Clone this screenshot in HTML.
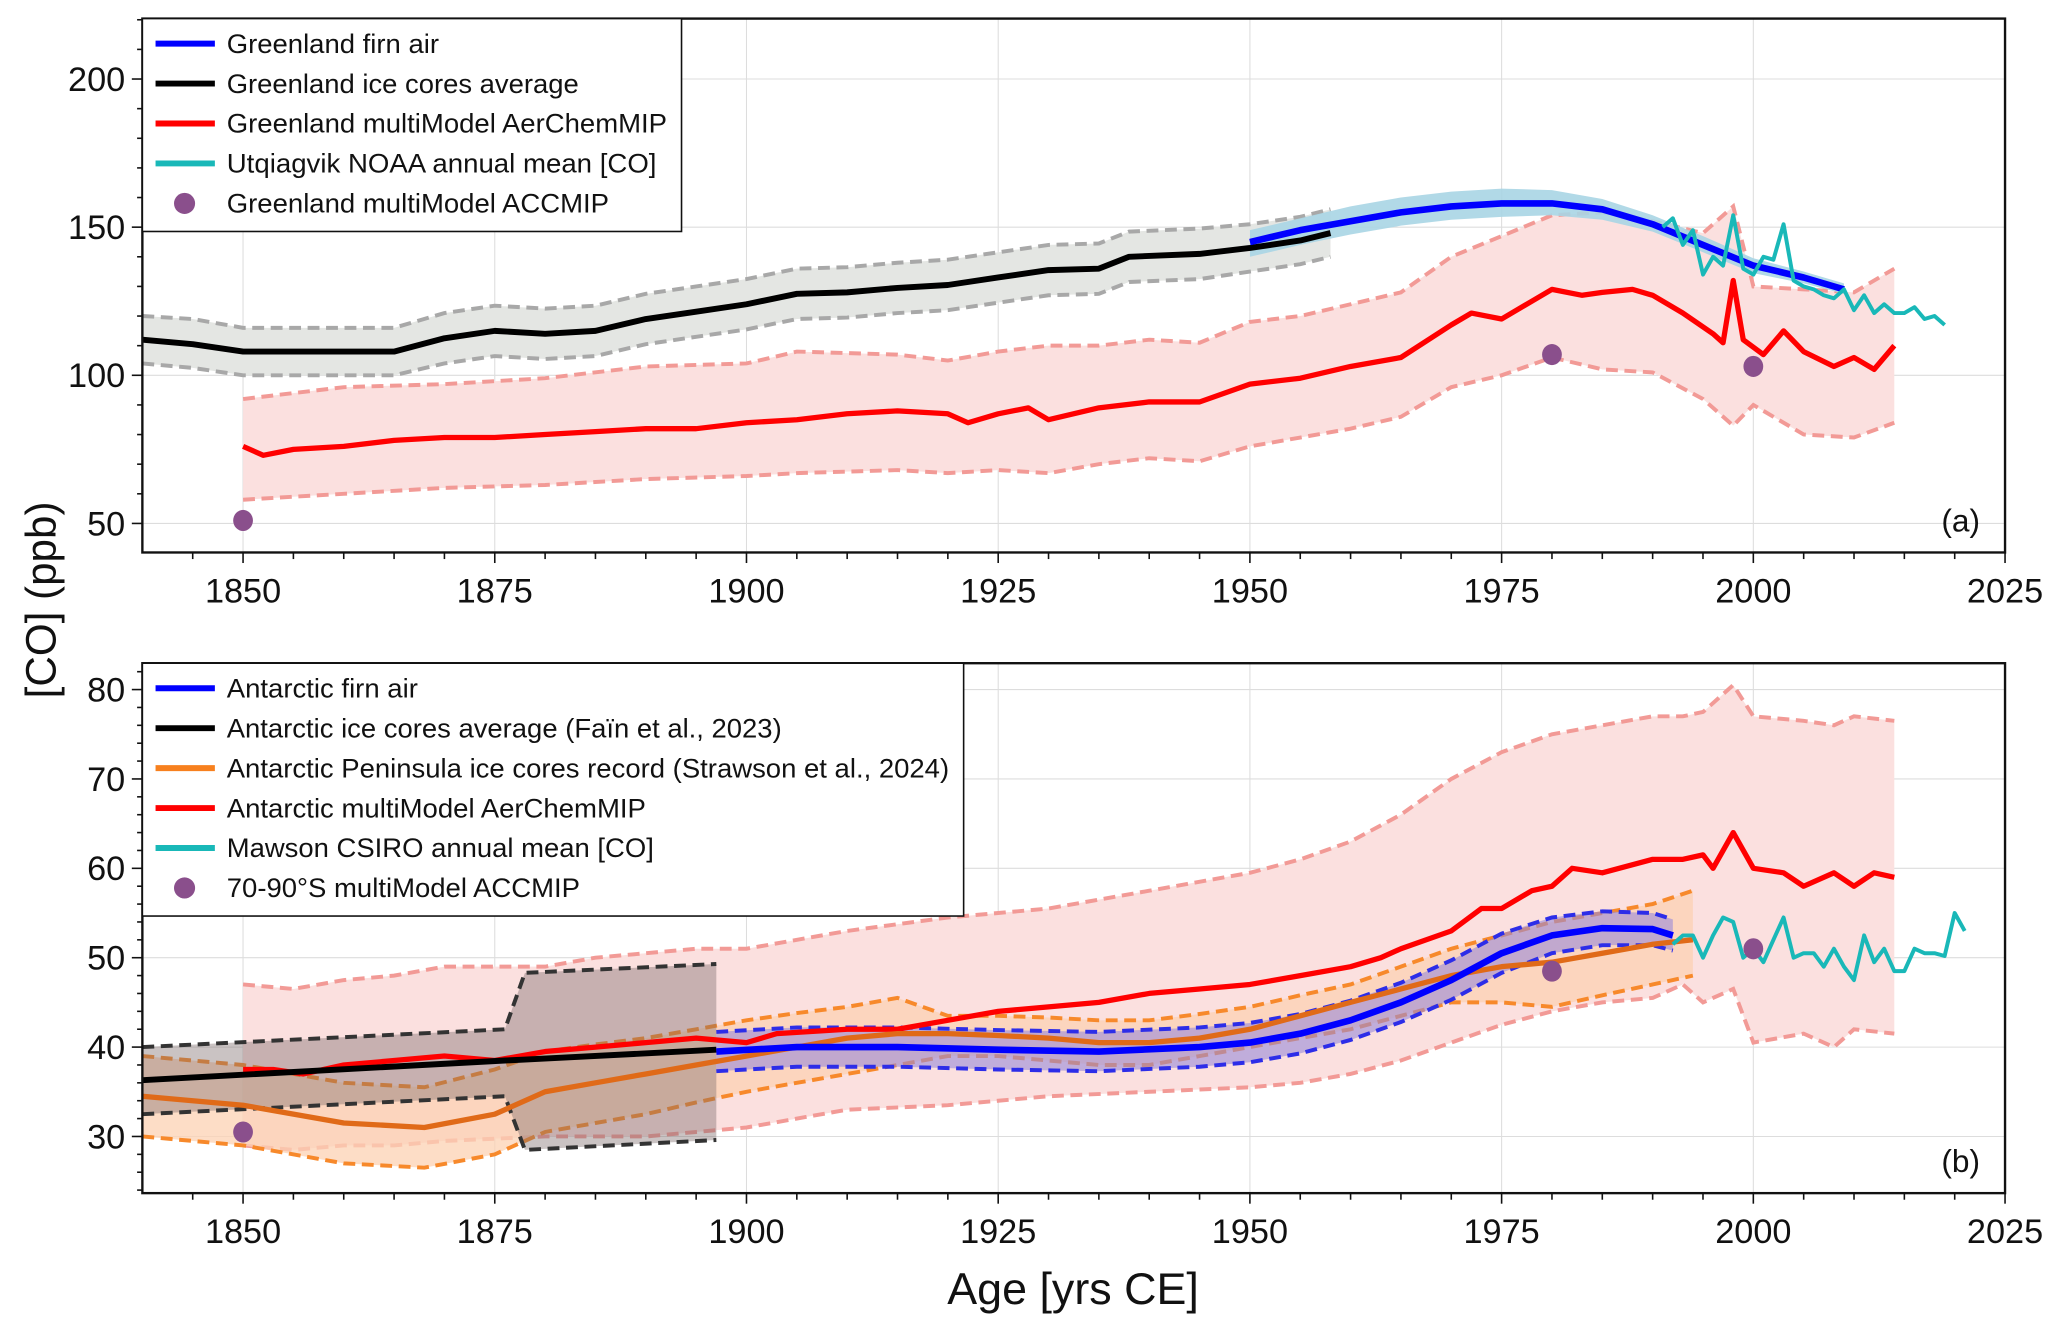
<!DOCTYPE html>
<html><head><meta charset="utf-8"><style>
html,body{margin:0;padding:0;background:#fff}
svg{display:block}
text{font-family:"Liberation Sans",sans-serif;fill:#111}
</style></head><body>
<svg id="chart" width="2067" height="1333" viewBox="0 0 1568 1011" xmlns="http://www.w3.org/2000/svg"></svg>
<script>
// ---------- Panel (a) data: Greenland ----------
const aIceYears=[1840,1845,1850,1855,1860,1865,1870,1875,1880,1885,1890,1895,1900,1905,1910,1915,1920,1925,1930,1935,1938,1945,1950,1955,1958];
const aIceMean=[112,110.5,108,108,108,108,112.5,115,114,115,119,121.5,124,127.5,128,129.5,130.5,133,135.5,136,140,141,143,145.5,148];
const aIceUp=[120,119,116,116,116,116,121,123.5,122.5,123.5,127.5,130,132.5,136,136.5,138,139,141.5,144,144.5,148.5,149.5,151,153.5,156];
const aIceLo=[104,102.5,100,100,100,100,104,106.5,105.5,106.5,110.5,113,115.5,119,119.5,121,122,124.5,127,127.5,131.5,132.5,135,137.5,140];
const aFirnYears=[1950,1955,1960,1965,1970,1975,1980,1985,1990,1995,2000,2005,2009];
const aFirn=[145,149,152,155,157,158,158,156,151,144,137,133,129];
const aFirnUp=[149,153,157,160,162,163,162.5,159.5,154,147,139.5,135,131];
const aFirnLo=[140,144,147.5,150.5,152.5,153.5,154,152.5,148.5,141.5,134.5,131,127.5];
const aModYears=[1850,1852,1855,1860,1865,1870,1875,1880,1885,1890,1895,1900,1905,1910,1915,1920,1922,1925,1928,1930,1935,1940,1945,1950,1955,1960,1965,1970,1972,1975,1978,1980,1983,1985,1988,1990,1993,1996,1997,1998,1999,2001,2003,2005,2008,2010,2012,2014];
const aMod=[76,73,75,76,78,79,79,80,81,82,82,84,85,87,88,87,84,87,89,85,89,91,91,97,99,103,106,117,121,119,125,129,127,128,129,127,121,114,111,132,112,107,115,108,103,106,102,110];
const aModBandYears=[1850,1855,1860,1870,1880,1890,1900,1905,1915,1920,1925,1930,1935,1940,1945,1950,1955,1960,1965,1970,1975,1980,1985,1990,1995,1998,2000,2005,2010,2014];
const aModUp=[92,94,96,97,99,103,104,108,107,105,108,110,110,112,111,118,120,124,128,140,147,154,155,152,148,157,130,129,128,136];
const aModLo=[58,59,60,62,63,65,66,67,68,67,68,67,70,72,71,76,79,82,86,96,100,106,102,101,92,83,90,80,79,84];
const aObsYears=[1991,1992,1993,1994,1995,1996,1997,1998,1999,2000,2001,2002,2003,2004,2005,2006,2007,2008,2009,2010,2011,2012,2013,2014,2015,2016,2017,2018,2019];
const aObs=[150,153,144,149,134,140,137,154,136,134,140,139,151,132,130,129,127,126,129,122,127,121,124,121,121,123,119,120,117];
const aDotYears=[1850,1980,2000];
const aDots=[51,107,103];
// ---------- Panel (b) data: Antarctic ----------
const bIceYears=[1840,1876,1878,1897];
const bIceMean=[36.3,38.5,38.6,39.7];
const bIceUp=[40,42,48.3,49.3];
const bIceLo=[32.5,34.5,28.5,29.6];
const bPenYears=[1840,1850,1860,1868,1875,1880,1885,1890,1895,1900,1905,1910,1915,1920,1925,1930,1935,1940,1945,1950,1955,1960,1965,1970,1975,1980,1985,1990,1994];
const bPen=[34.5,33.5,31.5,31,32.5,35,36,37,38,39,40,41,41.5,41.5,41.3,41,40.5,40.5,41,42,43.5,45,46.5,48,49,49.5,50.5,51.5,52];
const bPenUp=[39,38,36,35.5,37.5,39.5,40.3,41,42,43,43.8,44.5,45.5,43.5,43.5,43.3,43,43,43.7,44.5,45.8,47,49,51,52.5,54,55,56,57.5];
const bPenLo=[30,29,27,26.5,28,30.5,31.5,32.5,33.8,35,36,37,38,39,39,38.5,38,38,39,40,41,42,43.5,45,45,44.5,45.8,47,48];
const bFirnYears=[1897,1905,1915,1925,1935,1945,1950,1955,1960,1965,1970,1975,1980,1985,1990,1992];
const bFirn=[39.5,40,40,39.7,39.5,40,40.5,41.5,43,45,47.5,50.5,52.5,53.3,53.2,52.5];
const bFirnUp=[41.7,42.2,42.2,41.9,41.7,42.2,42.7,43.7,45.2,47.2,49.7,52.7,54.5,55.2,55,54.3];
const bFirnLo=[37.3,37.8,37.8,37.5,37.3,37.8,38.3,39.3,40.8,42.8,45.3,48.3,50.5,51.4,51.4,50.8];
const bModYears=[1850,1853,1856,1860,1865,1870,1875,1880,1885,1890,1895,1900,1903,1910,1915,1920,1925,1930,1935,1940,1945,1950,1955,1960,1963,1965,1970,1973,1975,1978,1980,1982,1985,1990,1993,1995,1996,1998,2000,2003,2005,2008,2010,2012,2014];
const bMod=[37.5,37.5,37,38,38.5,39,38.5,39.5,40,40.5,41,40.5,41.5,42,42,43,44,44.5,45,46,46.5,47,48,49,50,51,53,55.5,55.5,57.5,58,60,59.5,61,61,61.5,60,64,60,59.5,58,59.5,58,59.5,59];
const bModBandYears=[1850,1855,1860,1865,1870,1880,1885,1890,1895,1900,1910,1920,1925,1930,1940,1950,1955,1960,1965,1970,1975,1980,1985,1990,1993,1995,1998,2000,2005,2008,2010,2014];
const bModUp=[47,46.5,47.5,48,49,49,50,50.5,51,51,53,54.5,55,55.5,57.5,59.5,61,63,66,70,73,75,76,77,77,77.5,80.5,77,76.5,76,77,76.5];
const bModLo=[29,28.5,29,29,29.5,30,30,30,30.5,31,33,33.5,34,34.5,35,35.5,36,37,38.5,40.5,42.5,44,45,45.5,47,45,46.5,40.5,41.5,40,42,41.5];
const bObsYears=[1992,1993,1994,1995,1996,1997,1998,1999,2000,2001,2002,2003,2004,2005,2006,2007,2008,2009,2010,2011,2012,2013,2014,2015,2016,2017,2018,2019,2020,2021];
const bObs=[51.5,52.5,52.5,50,52.5,54.5,54,50,51,49.5,52,54.5,50,50.5,50.5,49,51,49,47.5,52.5,49.5,51,48.5,48.5,51,50.5,50.5,50.2,55,53];
const bDotYears=[1850,1980,2000];
const bDots=[30.5,48.5,51];
const xTicks=[1850,1875,1900,1925,1950,1975,2000,2025];
const aYTicks=[50,100,150,200];
const bYTicks=[30,40,50,60,70,80];

const NS='http://www.w3.org/2000/svg';
const svg=document.getElementById('chart');
function el(tag,attrs,parent){const e=document.createElementNS(NS,tag);for(const k in attrs)e.setAttribute(k,attrs[k]);(parent||svg).appendChild(e);return e;}

function panel(P){
  const g=el('g',{});
  
  
  const X=v=>P.x0+(v-1840)/(2025-1840)*(P.x1-P.x0);
  const Y=v=>P.y1-(v-P.ymin)/(P.ymax-P.ymin)*(P.y1-P.y0);
  const cp='clip'+P.name;
  const cd=el('clipPath',{id:cp},g);el('rect',{x:P.x0,y:P.y0,width:P.x1-P.x0,height:P.y1-P.y0},cd);
  xTicks.forEach(t=>{const l=el('line',{x1:X(t),x2:X(t),y1:P.y0,y2:P.y1,stroke:'#ddd','stroke-width':0.8},g);});
  P.yTicks.forEach(t=>{const l=el('line',{x1:P.x0,x2:P.x1,y1:Y(t),y2:Y(t),stroke:'#ddd','stroke-width':0.8},g);});
  const pg=el('g',{'clip-path':`url(#${cp})`},g);
  const pts=(xs,ys)=>xs.map((x,i)=>X(x).toFixed(1)+','+Y(ys[i]).toFixed(1)).join(' ');
  const band=(xs,up,lo)=>pts(xs,up)+' '+pts(xs.slice().reverse(),lo.slice().reverse());
  P.series.forEach(s=>{
    if(s.type==='band'){
      const p=el('polygon',{points:band(s.x,s.up,s.lo),fill:s.fill,'fill-opacity':s.op||1,stroke:'none'},pg);
      
      if(s.dash){[s.up,s.lo].forEach((arr,k)=>{const l=el('polyline',{points:pts(s.x,arr),fill:'none',stroke:s.dash,'stroke-width':s.dw||3,'stroke-dasharray':'9,5'},pg);});}
    } else if(s.type==='line'){
      const l=el('polyline',{points:pts(s.x,s.y),fill:'none',stroke:s.c,'stroke-width':s.w,'stroke-linejoin':'round'},pg);
      
    } else if(s.type==='dots'){
      s.x.forEach((x,i)=>{const c=el('ellipse',{cx:X(x),cy:Y(s.y[i]),rx:7.5,ry:8,fill:'#8a4f8c'},pg);});
    }
  });
  const f=el('rect',{x:P.x0,y:P.y0,width:P.x1-P.x0,height:P.y1-P.y0,fill:'none',stroke:'#111','stroke-width':1.8},g);
  
  for(let yr=1845;yr<=2020;yr+=5){const major=xTicks.includes(yr);el('line',{x1:X(yr),x2:X(yr),y1:P.y1,y2:P.y1+(major?8:5),stroke:'#111','stroke-width':1.2},g);}
  el('line',{x1:X(2025),x2:X(2025),y1:P.y1,y2:P.y1+8,stroke:'#111','stroke-width':1.2},g);
  xTicks.forEach(t=>{const tx=el('text',{x:X(t),y:P.y1+38,'text-anchor':'middle','font-size':26},g);tx.textContent=t;});
  for(let v=Math.ceil(P.ymin/P.minor)*P.minor;v<=P.ymax;v+=P.minor){const major=P.yTicks.includes(v);el('line',{x1:P.x0,x2:P.x0-(major?8:4),y1:Y(v),y2:Y(v),stroke:'#111','stroke-width':1.2},g);}
  P.yTicks.forEach(t=>{const tx=el('text',{x:P.x0-13,y:Y(t)+9,'text-anchor':'end','font-size':26},g);tx.textContent=t;});
  const lab=el('text',{x:P.x1-19,y:P.y1-16,'text-anchor':'end','font-size':24},g);lab.textContent=P.label;
  const lg=el('g',{},g);
  el('rect',{x:P.x0,y:P.y0,width:P.legW,height:P.legend.length*30.3+10,fill:'#fff',stroke:'#111','stroke-width':1.2},lg);
  P.legend.forEach((it,i)=>{
    const yy=P.y0+19+i*30.3;
    const eg=el('g',{},lg);
    if(it[1]==='dot')el('circle',{cx:140,cy:yy,r:8,fill:'#8a4f8c'},eg);
    else el('line',{x1:118,x2:163,y1:yy,y2:yy,stroke:it[1],'stroke-width':4.5},eg);
    const t=el('text',{x:172,y:yy+7,'font-size':20,textLength:it[2],lengthAdjust:'spacingAndGlyphs'},eg);t.textContent=it[0];
  });
}

panel({name:'panel-a-greenland',x0:108,x1:1521,y0:14,y1:419,ymin:40.2,ymax:220.4,yTicks:aYTicks,minor:10,label:'(a)',legW:409,
 series:[
  {type:'band',n:'greenland-ice',x:aIceYears,up:aIceUp,lo:aIceLo,fill:'#e4e6e3',dash:'#a8a8a8'},
  {type:'band',n:'greenland-model',x:aModBandYears,up:aModUp,lo:aModLo,fill:'#fbe0df',dash:'#f29a96'},
  {type:'band',n:'greenland-firn',x:aFirnYears,up:aFirnUp,lo:aFirnLo,fill:'#a9d5e4',op:0.9},
  {type:'line',n:'greenland-ice-mean',x:aIceYears,y:aIceMean,c:'#000',w:4.5},
  {type:'line',n:'greenland-model-mean',x:aModYears,y:aMod,c:'#f00',w:4},
  {type:'line',n:'greenland-firn-line',x:aFirnYears,y:aFirn,c:'#00f',w:5},
  {type:'line',n:'utqiagvik-noaa',x:aObsYears,y:aObs,c:'#19b8b8',w:3},
  {type:'dots',x:aDotYears,y:aDots}],
 legend:[['Greenland firn air','#00f',161],['Greenland ice cores average','#000',267],['Greenland multiModel AerChemMIP','#f00',334],['Utqiagvik NOAA annual mean [CO]','#19b8b8',326],['Greenland multiModel ACCMIP','dot',290]]});

panel({name:'panel-b-antarctic',x0:108,x1:1521,y0:503,y1:905,ymin:23.66,ymax:82.95,yTicks:bYTicks,minor:2,label:'(b)',legW:623,
 series:[
  {type:'band',n:'antarctic-model',x:bModBandYears,up:bModUp,lo:bModLo,fill:'#fbe0df',dash:'#f29a96'},
  {type:'band',n:'peninsula',x:bPenYears,up:bPenUp,lo:bPenLo,fill:'#fcd2b3',op:0.75,dash:'#f7892b'},
  {type:'band',n:'antarctic-ice',x:bIceYears,up:bIceUp,lo:bIceLo,fill:'#7a6a6a',op:0.4,dash:'#333'},
  {type:'band',n:'antarctic-firn',x:bFirnYears,up:bFirnUp,lo:bFirnLo,fill:'#9a8ad8',op:0.6,dash:'#2d2de8'},
  {type:'line',n:'antarctic-model-mean',x:bModYears,y:bMod,c:'#f00',w:4},
  {type:'line',n:'antarctic-ice-mean',x:bIceYears,y:bIceMean,c:'#000',w:4.5},
  {type:'line',n:'peninsula-mean',x:bPenYears,y:bPen,c:'#e06a18',w:4},
  {type:'line',n:'antarctic-firn-line',x:bFirnYears,y:bFirn,c:'#00f',w:5},
  {type:'line',n:'mawson-csiro',x:bObsYears,y:bObs,c:'#19b8b8',w:3},
  {type:'dots',x:bDotYears,y:bDots}],
 legend:[['Antarctic firn air','#00f',145],['Antarctic ice cores average (Faïn et al., 2023)','#000',421],['Antarctic Peninsula ice cores record (Strawson et al., 2024)','#f7801e',548],['Antarctic multiModel AerChemMIP','#f00',318],['Mawson CSIRO annual mean [CO]','#19b8b8',324],['70-90°S multiModel ACCMIP','dot',268]]});

const yl=el('text',{x:42,y:455,'text-anchor':'middle','font-size':32,transform:'rotate(-90 42 455)'});
yl.textContent='[CO] (ppb)';


const xl=el('text',{x:814,y:989,'text-anchor':'middle','font-size':34});
xl.textContent='Age [yrs CE]';


</script>
</body></html>
